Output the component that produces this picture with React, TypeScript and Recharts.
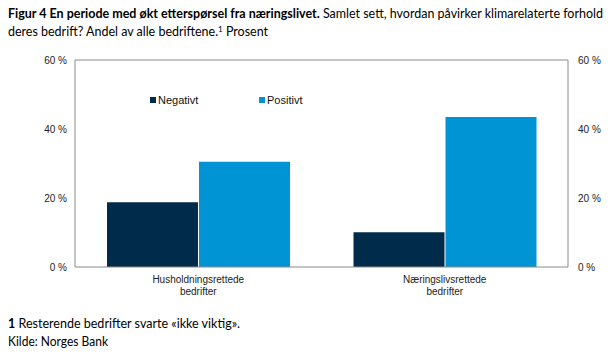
import React from "react";
import { ComposedChart, Bar, Line, XAxis, YAxis, ReferenceLine, Legend } from "recharts";

const categories = ["Husholdningsrettede|bedrifter", "Næringslivsrettede|bedrifter"];
const negativt = [18.8, 10.1];
const positivt = [30.5, 43.5];
const yTicks = [0, 20, 40, 60];
const seriesNames = ["Negativt", "Positivt"];
const seriesColors = ["#002B4A", "#0094D4"];

const data = categories.map((c, i) => ({
  name: c,
  Negativt: negativt[i],
  Positivt: positivt[i],
}));

const AXIS_FONT = "'Liberation Sans', Arial, sans-serif";
const TEXT_FONT = "Lato, 'Open Sans', sans-serif";
const FRAME = "#8a8a8a";

const XTick = (props: any) => {
  const { x, y, payload } = props;
  const lines = String(payload.value).split("|");
  return (
    <text x={x} y={y} textAnchor="middle" fontFamily={AXIS_FONT} fontSize={10} fill="#222">
      {lines.map((l, i) => (
        <tspan key={i} x={x} dy={i === 0 ? 15.5 : 12}>
          {l}
        </tspan>
      ))}
    </text>
  );
};

const LegendContent = (props: any) => {
  const { payload } = props;
  const items = (payload || []).filter((p: any) => seriesNames.includes(p.value) && p.type !== "none");
  const offsets = [0, 109];
  return (
    <div style={{ position: "relative", height: 14, fontFamily: AXIS_FONT, fontSize: 11, color: "#111" }}>
      {items.map((p: any, i: number) => (
        <div key={p.value} style={{ position: "absolute", left: offsets[i], top: 0, whiteSpace: "nowrap", lineHeight: "14px" }}>
          <span style={{ display: "inline-block", width: 6, height: 6, background: p.color, marginRight: 2, verticalAlign: "1px" }} />
          {p.value}
        </div>
      ))}
    </div>
  );
};

export default function App() {
  return (
    <div style={{ position: "absolute", left: 0, top: 0, width: 614, height: 355, background: "#fff" }}>
      <ComposedChart
        width={614}
        height={355}
        data={data}
        margin={{ top: 60, right: 0, bottom: 58, left: 0 }}
        barGap={1}
        barCategoryGap={32}
      >
        <XAxis
          dataKey="name"
          tick={<XTick />}
          tickLine={false}
          tickSize={0}
          tickMargin={0}
          height={30}
          stroke={FRAME}
          interval={0}
        />
        <YAxis
          yAxisId="left"
          width={75}
          domain={[0, 60]}
          ticks={yTicks}
          tickFormatter={(v) => `${v} %`}
          tickLine={false}
          tickSize={0}
          tickMargin={8}
          stroke={FRAME}
          tick={{ fontFamily: AXIS_FONT, fontSize: 10, fill: "#222" }}
        />
        <YAxis
          yAxisId="right"
          orientation="right"
          width={46}
          domain={[0, 60]}
          type="number"
          ticks={yTicks}
          tickFormatter={(v) => `${v} %`}
          tickLine={false}
          tickSize={0}
          tickMargin={10}
          stroke={FRAME}
          tick={{ fontFamily: AXIS_FONT, fontSize: 10, fill: "#222", textAnchor: "start" }}
        />
        <ReferenceLine yAxisId="left" y={60} stroke={FRAME} />
        <Legend
          verticalAlign="middle"
          content={<LegendContent />}
          wrapperStyle={{ position: "absolute", top: 93, left: 150, width: 250 }}
        />
        {seriesNames.map((s, i) => (
          <Bar key={s} dataKey={s} yAxisId="left" fill={seriesColors[i]} isAnimationActive={false} />
        ))}
        <Line
          dataKey="Positivt"
          yAxisId="right"
          stroke="none"
          dot={false}
          activeDot={false}
          legendType="none"
          isAnimationActive={false}
        />
      </ComposedChart>
      <svg width={614} height={355} style={{ position: "absolute", left: 0, top: 0, pointerEvents: "none" }}>
        <text x={8} y={18} fontFamily={TEXT_FONT} fontSize={12.5} fill="#000" textLength={595} lengthAdjust="spacingAndGlyphs">
          <tspan fontWeight="bold">Figur 4 En periode med økt etterspørsel fra næringslivet.</tspan>
          <tspan> Samlet sett, hvordan påvirker klimarelaterte forhold</tspan>
        </text>
        <text x={8} y={36} fontFamily={TEXT_FONT} fontSize={12.5} fill="#000" textLength={260} lengthAdjust="spacingAndGlyphs">
          <tspan>deres bedrift? Andel av alle bedriftene.</tspan>
          <tspan fontSize={8} dy={-4}>1</tspan>
          <tspan dy={4}> Prosent</tspan>
        </text>
        <text x={8} y={327.5} fontFamily={TEXT_FONT} fontSize={12.5} fill="#000" textLength={232} lengthAdjust="spacingAndGlyphs">
          <tspan fontWeight="bold">1</tspan>
          <tspan> Resterende bedrifter svarte «ikke viktig».</tspan>
        </text>
        <text x={8} y={345.5} fontFamily={TEXT_FONT} fontSize={12.5} fill="#000" textLength={100} lengthAdjust="spacingAndGlyphs">
          Kilde: Norges Bank
        </text>
      </svg>
    </div>
  );
}
